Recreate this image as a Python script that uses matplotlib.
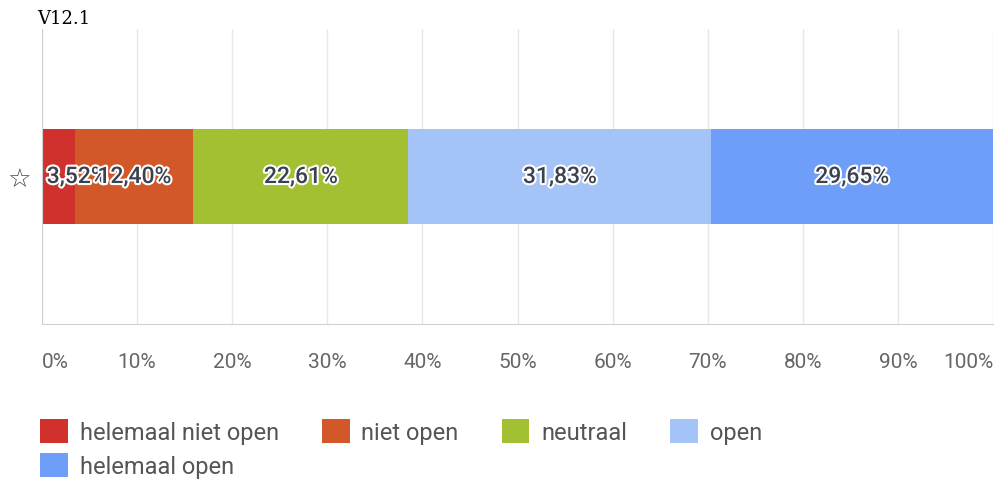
import matplotlib
matplotlib.use('Agg')
import matplotlib.pyplot as plt
import matplotlib.patheffects as pe
from matplotlib.patches import Patch

# data
categories = ['helemaal niet open', 'niet open', 'neutraal', 'open', 'helemaal open']
values = [3.52, 12.40, 22.61, 31.83, 29.65]
colors = ['#d0312d', '#d25829', '#a3bf32', '#a4c3f7', '#6e9ef7']
row_label = ['\u2606']
xticks = [0, 10, 20, 30, 40, 50, 60, 70, 80, 90, 100]
title = 'V12.1'

fig = plt.figure(figsize=(9.97, 4.85), dpi=100)
ax = fig.add_axes([0.0421, 0.330, 0.954, 0.608])

left = 0
for cat, val, col in zip(categories, values, colors):
    ax.barh(0, val, left=left, height=0.32, color=col, label=cat, zorder=2)
    txt = f'{val:.2f}%'.replace('.', ',')
    xpos, ha = left + val / 2, 'center'
    if val < 6:  # too narrow: keep the label inside the plot
        xpos, ha = 0.5, 'left'
    ax.text(xpos, 0, txt, ha=ha, va='center',
            fontsize=16.5, color='#3c4150', family='Roboto', fontweight='medium', zorder=3,
            path_effects=[pe.withStroke(linewidth=3, foreground='white')])
    left += val

ax.set_xlim(0, 100)
ax.set_ylim(-0.5, 0.5)
ax.set_xticks(xticks, [f'{t}%' for t in xticks])
ax.set_yticks([0], row_label)
ax.grid(axis='x', color='#e8e8e8', linewidth=1, zorder=0)
ax.tick_params(axis='x', length=0, pad=20, labelsize=15, labelcolor='#666666')
ax.tick_params(axis='y', length=0, pad=8, labelsize=19, labelcolor='#444444')
for lbl in ax.get_xticklabels():
    lbl.set_family('Roboto')
xl = ax.get_xticklabels()
xl[0].set_ha('left')
xl[-1].set_ha('right')
for s in ['top', 'right']:
    ax.spines[s].set_visible(False)
ax.spines['left'].set_color('#d0d0d0')
ax.spines['bottom'].set_color('#d0d0d0')

fig.text(0.037, 0.96, title, ha='left', va='center', fontsize=13, family='DejaVu Serif')

# legend, row-major order
handles = [Patch(facecolor=c, edgecolor='none') for c in colors]
order = [0, 4, 1, 2, 3]
fig.legend([handles[i] for i in order], [categories[i] for i in order], ncol=4,
           loc='upper left', bbox_to_anchor=(0.040, 0.134), frameon=False,
           borderaxespad=0, borderpad=0,
           prop={'family': 'Roboto', 'size': 17},
           labelcolor='#555555', handlelength=1.18, handleheight=1.2,
           handletextpad=0.5, columnspacing=1.82, labelspacing=0.38)

fig.savefig('out.png', dpi=100)
